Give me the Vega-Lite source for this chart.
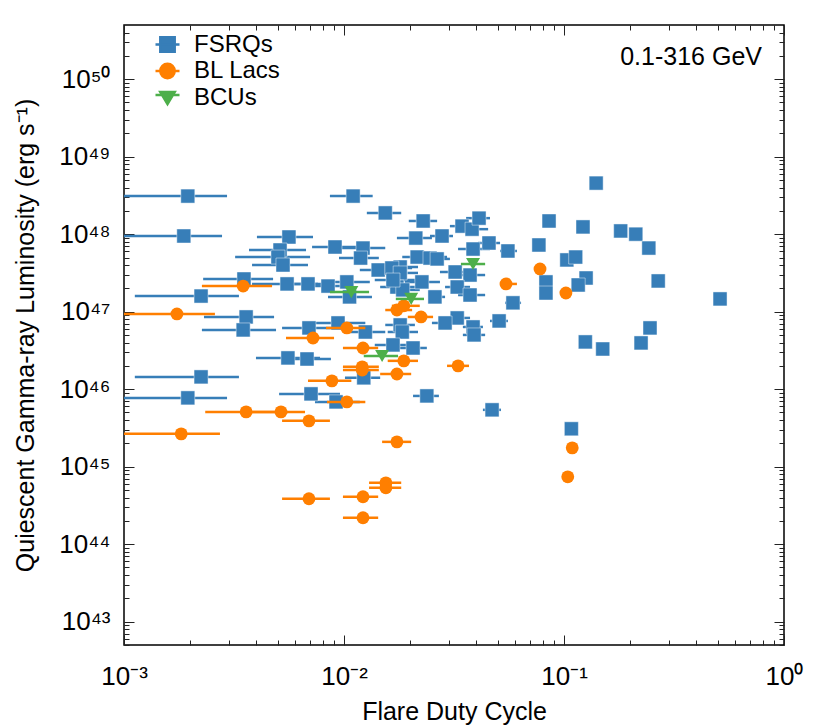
{
  "$schema": "https://vega.github.io/schema/vega-lite/v6.json",
  "width": 660,
  "height": 620,
  "autosize": {"type": "none"},
  "padding": {"left": 124, "top": 25, "right": 46, "bottom": 82},
  "background": "white",
  "config": {
    "font": "Liberation Sans",
    "view": {"stroke": "#000", "strokeWidth": 1.5},
    "axis": {
      "grid": false,
      "domain": false,
      "labelFont": "Liberation Sans",
      "labelFontSize": 26,
      "labelColor": "#000",
      "titleFont": "Liberation Sans",
      "titleFontSize": 25,
      "titleFontWeight": "normal",
      "titleColor": "#000",
      "tickColor": "#222",
      "tickWidth": 1
    }
  },
  "data": {"values": [
    {"type":"FSRQs","x":0.00195,"y":3.10e48,"lo":0.0009,"hi":0.00294},
    {"type":"FSRQs","x":0.00187,"y":9.47e47,"lo":0.0009,"hi":0.00279},
    {"type":"FSRQs","x":0.0110,"y":3.10e48,"lo":0.00863,"hi":0.0135},
    {"type":"FSRQs","x":0.0154,"y":1.88e48,"lo":0.0127,"hi":0.0182},
    {"type":"FSRQs","x":0.00562,"y":9.19e47,"lo":0.00402,"hi":0.00723},
    {"type":"FSRQs","x":0.00512,"y":6.25e47,"lo":0.00370,"hi":0.00672},
    {"type":"FSRQs","x":0.00501,"y":5.07e47,"lo":0.00320,"hi":0.00701},
    {"type":"FSRQs","x":0.00528,"y":4.00e47,"lo":0.00382,"hi":0.00686},
    {"type":"FSRQs","x":0.00351,"y":2.64e47,"lo":0.00229,"hi":0.00476},
    {"type":"FSRQs","x":0.00224,"y":1.59e47,"lo":0.00112,"hi":0.00333},
    {"type":"FSRQs","x":0.00359,"y":8.55e46,"lo":0.00231,"hi":0.00481},
    {"type":"FSRQs","x":0.00348,"y":5.81e46,"lo":0.00226,"hi":0.00491},
    {"type":"FSRQs","x":0.00551,"y":2.28e47,"lo":0.00382,"hi":0.00762},
    {"type":"FSRQs","x":0.00686,"y":2.28e47,"lo":0.00540,"hi":0.00863},
    {"type":"FSRQs","x":0.00846,"y":2.14e47,"lo":0.00665,"hi":0.0106},
    {"type":"FSRQs","x":0.0103,"y":2.42e47,"lo":0.00820,"hi":0.0131},
    {"type":"FSRQs","x":0.0106,"y":1.55e47,"lo":0.00846,"hi":0.0134},
    {"type":"FSRQs","x":0.00910,"y":6.83e47,"lo":0.00716,"hi":0.0118},
    {"type":"FSRQs","x":0.0122,"y":6.62e47,"lo":0.00959,"hi":0.0154},
    {"type":"FSRQs","x":0.0119,"y":4.92e47,"lo":0.00949,"hi":0.0144},
    {"type":"FSRQs","x":0.0212,"y":8.91e47,"lo":0.0174,"hi":0.0251},
    {"type":"FSRQs","x":0.0229,"y":1.48e48,"lo":0.0197,"hi":0.0265},
    {"type":"FSRQs","x":0.0279,"y":9.47e47,"lo":0.0246,"hi":0.0313},
    {"type":"FSRQs","x":0.0344,"y":1.27e48,"lo":0.0303,"hi":0.0394},
    {"type":"FSRQs","x":0.0382,"y":1.16e48,"lo":0.0330,"hi":0.0452},
    {"type":"FSRQs","x":0.0411,"y":1.61e48,"lo":0.0359,"hi":0.0461},
    {"type":"FSRQs","x":0.0456,"y":7.69e47,"lo":0.0406,"hi":0.0512},
    {"type":"FSRQs","x":0.0386,"y":6.43e47,"lo":0.0330,"hi":0.0461},
    {"type":"FSRQs","x":0.0556,"y":6.07e47,"lo":0.0512,"hi":0.0611},
    {"type":"FSRQs","x":0.0855,"y":1.48e48},
    {"type":"FSRQs","x":0.0769,"y":7.25e47},
    {"type":"FSRQs","x":0.140,"y":4.56e48},
    {"type":"FSRQs","x":0.122,"y":1.24e48},
    {"type":"FSRQs","x":0.181,"y":1.10e48},
    {"type":"FSRQs","x":0.212,"y":1.00e48},
    {"type":"FSRQs","x":0.243,"y":6.62e47},
    {"type":"FSRQs","x":0.103,"y":4.65e47},
    {"type":"FSRQs","x":0.113,"y":5.07e47},
    {"type":"FSRQs","x":0.126,"y":2.72e47},
    {"type":"FSRQs","x":0.116,"y":2.21e47},
    {"type":"FSRQs","x":0.268,"y":2.49e47},
    {"type":"FSRQs","x":0.512,"y":1.46e47},
    {"type":"FSRQs","x":0.246,"y":6.17e46},
    {"type":"FSRQs","x":0.224,"y":3.95e46},
    {"type":"FSRQs","x":0.125,"y":4.07e46},
    {"type":"FSRQs","x":0.150,"y":3.30e46},
    {"type":"FSRQs","x":0.108,"y":3.08e45},
    {"type":"FSRQs","x":0.0828,"y":2.42e47},
    {"type":"FSRQs","x":0.0828,"y":1.74e47},
    {"type":"FSRQs","x":0.0586,"y":1.30e47,"lo":0.0540,"hi":0.0638},
    {"type":"FSRQs","x":0.0507,"y":7.59e46,"lo":0.0461,"hi":0.0556},
    {"type":"FSRQs","x":0.0386,"y":6.35e46,"lo":0.0347,"hi":0.0428},
    {"type":"FSRQs","x":0.0390,"y":5.01e46,"lo":0.0347,"hi":0.0438},
    {"type":"FSRQs","x":0.0327,"y":8.30e46,"lo":0.0288,"hi":0.0374},
    {"type":"FSRQs","x":0.0288,"y":7.15e46,"lo":0.0251,"hi":0.0337},
    {"type":"FSRQs","x":0.0259,"y":1.55e47,"lo":0.0241,"hi":0.0288},
    {"type":"FSRQs","x":0.0215,"y":5.07e47,"lo":0.0184,"hi":0.0294},
    {"type":"FSRQs","x":0.0246,"y":4.92e47,"lo":0.0210,"hi":0.0294},
    {"type":"FSRQs","x":0.0265,"y":4.79e47,"lo":0.0234,"hi":0.0303},
    {"type":"FSRQs","x":0.0143,"y":3.45e47,"lo":0.0118,"hi":0.0180},
    {"type":"FSRQs","x":0.0180,"y":3.77e47,"lo":0.0154,"hi":0.0217},
    {"type":"FSRQs","x":0.0165,"y":3.66e47,"lo":0.0138,"hi":0.0204},
    {"type":"FSRQs","x":0.0180,"y":3.16e47,"lo":0.0158,"hi":0.0217},
    {"type":"FSRQs","x":0.0174,"y":2.08e47,"lo":0.0146,"hi":0.0210},
    {"type":"FSRQs","x":0.0185,"y":1.91e47,"lo":0.0162,"hi":0.0221},
    {"type":"FSRQs","x":0.0226,"y":2.42e47,"lo":0.0189,"hi":0.0273},
    {"type":"FSRQs","x":0.0320,"y":3.25e47,"lo":0.0273,"hi":0.0374},
    {"type":"FSRQs","x":0.0374,"y":2.97e47,"lo":0.0320,"hi":0.0438},
    {"type":"FSRQs","x":0.0327,"y":2.08e47,"lo":0.0288,"hi":0.0374},
    {"type":"FSRQs","x":0.0374,"y":1.64e47,"lo":0.0330,"hi":0.0438},
    {"type":"FSRQs","x":0.0167,"y":2.56e47,"lo":0.0138,"hi":0.0210},
    {"type":"FSRQs","x":0.00693,"y":6.17e46,"lo":0.00523,"hi":0.00891},
    {"type":"FSRQs","x":0.00939,"y":7.15e46,"lo":0.00738,"hi":0.0125},
    {"type":"FSRQs","x":0.0125,"y":5.47e46,"lo":0.0106,"hi":0.0154},
    {"type":"FSRQs","x":0.0180,"y":6.74e46,"lo":0.0154,"hi":0.0210},
    {"type":"FSRQs","x":0.0184,"y":5.47e46,"lo":0.0158,"hi":0.0217},
    {"type":"FSRQs","x":0.0167,"y":3.72e46,"lo":0.0138,"hi":0.0210},
    {"type":"FSRQs","x":0.0206,"y":3.40e46,"lo":0.0174,"hi":0.0238},
    {"type":"FSRQs","x":0.00556,"y":2.53e46,"lo":0.00398,"hi":0.00778},
    {"type":"FSRQs","x":0.00679,"y":2.45e46,"lo":0.00540,"hi":0.00872},
    {"type":"FSRQs","x":0.0123,"y":1.40e46,"lo":0.0101,"hi":0.0146},
    {"type":"FSRQs","x":0.00224,"y":1.44e46,"lo":0.00112,"hi":0.00333},
    {"type":"FSRQs","x":0.00195,"y":7.72e45,"lo":0.0009,"hi":0.00294},
    {"type":"FSRQs","x":0.00708,"y":8.69e45,"lo":0.00507,"hi":0.00959},
    {"type":"FSRQs","x":0.00920,"y":6.85e45,"lo":0.00738,"hi":0.0118},
    {"type":"FSRQs","x":0.0238,"y":8.18e45,"lo":0.0206,"hi":0.0270},
    {"type":"FSRQs","x":0.0471,"y":5.41e45,"lo":0.0428,"hi":0.0517},
    {"type":"BL Lacs","x":0.00348,"y":2.14e47,"lo":0.00226,"hi":0.00471},
    {"type":"BL Lacs","x":0.00174,"y":9.35e46,"lo":0.0009,"hi":0.00259},
    {"type":"BL Lacs","x":0.00723,"y":4.58e46,"lo":0.00545,"hi":0.00901},
    {"type":"BL Lacs","x":0.0103,"y":6.17e46,"lo":0.00828,"hi":0.0125},
    {"type":"BL Lacs","x":0.00881,"y":1.28e46,"lo":0.00686,"hi":0.0108},
    {"type":"BL Lacs","x":0.0103,"y":6.85e45,"lo":0.00837,"hi":0.0125},
    {"type":"BL Lacs","x":0.00359,"y":5.09e45,"lo":0.00234,"hi":0.00556},
    {"type":"BL Lacs","x":0.00517,"y":5.09e45,"lo":0.00374,"hi":0.00665},
    {"type":"BL Lacs","x":0.00693,"y":3.90e45,"lo":0.00523,"hi":0.00863},
    {"type":"BL Lacs","x":0.00182,"y":2.65e45,"lo":0.0009,"hi":0.00273},
    {"type":"BL Lacs","x":0.0122,"y":3.40e46,"lo":0.00989,"hi":0.0143},
    {"type":"BL Lacs","x":0.0121,"y":1.94e46,"lo":0.00989,"hi":0.0144},
    {"type":"BL Lacs","x":0.0121,"y":1.77e46,"lo":0.00989,"hi":0.0144},
    {"type":"BL Lacs","x":0.0187,"y":2.32e46,"lo":0.0158,"hi":0.0217},
    {"type":"BL Lacs","x":0.0174,"y":1.57e46,"lo":0.0146,"hi":0.0202},
    {"type":"BL Lacs","x":0.0330,"y":2.00e46,"lo":0.0294,"hi":0.0370},
    {"type":"BL Lacs","x":0.0174,"y":1.05e47,"lo":0.0154,"hi":0.0204},
    {"type":"BL Lacs","x":0.0187,"y":1.19e47,"lo":0.0165,"hi":0.0221},
    {"type":"BL Lacs","x":0.0224,"y":8.55e46,"lo":0.0195,"hi":0.0254},
    {"type":"BL Lacs","x":0.0545,"y":2.28e47,"lo":0.0512,"hi":0.0611},
    {"type":"BL Lacs","x":0.0778,"y":3.56e47},
    {"type":"BL Lacs","x":0.102,"y":1.74e47},
    {"type":"BL Lacs","x":0.0174,"y":2.09e45,"lo":0.0149,"hi":0.0202},
    {"type":"BL Lacs","x":0.0155,"y":6.19e44,"lo":0.0130,"hi":0.0182},
    {"type":"BL Lacs","x":0.0155,"y":5.34e44,"lo":0.0130,"hi":0.0182},
    {"type":"BL Lacs","x":0.0122,"y":4.09e44,"lo":0.00989,"hi":0.0143},
    {"type":"BL Lacs","x":0.00693,"y":3.85e44,"lo":0.00523,"hi":0.00863},
    {"type":"BL Lacs","x":0.0122,"y":2.19e44,"lo":0.00989,"hi":0.0143},
    {"type":"BL Lacs","x":0.109,"y":1.75e45},
    {"type":"BL Lacs","x":0.104,"y":7.40e44},
    {"type":"BCUs","x":0.0108,"y":1.79e47,"lo":0.00863,"hi":0.0130},
    {"type":"BCUs","x":0.0202,"y":1.46e47,"lo":0.0172,"hi":0.0231},
    {"type":"BCUs","x":0.0149,"y":2.68e46,"lo":0.0123,"hi":0.0176},
    {"type":"BCUs","x":0.0386,"y":4.12e47,"lo":0.0340,"hi":0.0438}
  ]},
  "resolve": {"axis": {"x": "independent", "y": "independent"}},
  "layer": [
    {
      "transform": [{"filter": "datum.type == 'FSRQs' && isValid(datum.lo)"}],
      "mark": {"type": "rule", "color": "#377eb8", "strokeWidth": 2.5, "clip": true},
      "encoding": {
        "x": {"field": "lo", "type": "quantitative",
          "scale": {"type": "log", "domain": [0.001, 1], "nice": false},
          "axis": {
            "orient": "bottom",
            "title": "Flare Duty Cycle",
            "titleX": 330, "titleY": 66, "titleBaseline": "middle", "titleAlign": "center",
            "values": [0.001,0.002,0.003,0.004,0.005,0.006,0.007,0.008,0.009,0.01,0.02,0.03,0.04,0.05,0.06,0.07,0.08,0.09,0.1,0.2,0.3,0.4,0.5,0.6,0.7,0.8,0.9,1],
            "labelExpr": "abs(log(datum.value)/LN10 - round(log(datum.value)/LN10)) < 0.001 ? '10' + ['⁻³','⁻²','⁻¹','⁰'][round(log(datum.value)/LN10) + 3] : ''",
            "tickSize": {"condition": {"test": "abs(log(datum.value)/LN10 - round(log(datum.value)/LN10)) < 0.001", "value": -10}, "value": -5},
            "labelPadding": 28,
            "labelFlush": false,
            "labelOverlap": false
          }
        },
        "x2": {"field": "hi"},
        "y": {"field": "y", "type": "quantitative",
          "scale": {"type": "log", "domain": [5e42, 5e50], "nice": false},
          "axis": {
            "orient": "left",
            "title": "Quiescent Gamma-ray Luminosity (erg s⁻¹)",
            "titleX": -99, "titleY": 310, "titleBaseline": "middle", "titleAlign": "center", "titleAngle": -90,
            "values": [5e42,6e42,7e42,8e42,9e42,1e43,2e43,3e43,4e43,5e43,6e43,7e43,8e43,9e43,1e44,2e44,3e44,4e44,5e44,6e44,7e44,8e44,9e44,1e45,2e45,3e45,4e45,5e45,6e45,7e45,8e45,9e45,1e46,2e46,3e46,4e46,5e46,6e46,7e46,8e46,9e46,1e47,2e47,3e47,4e47,5e47,6e47,7e47,8e47,9e47,1e48,2e48,3e48,4e48,5e48,6e48,7e48,8e48,9e48,1e49,2e49,3e49,4e49,5e49,6e49,7e49,8e49,9e49,1e50,2e50,3e50,4e50],
            "labelExpr": "abs(log(datum.value)/LN10 - round(log(datum.value)/LN10)) < 0.001 ? '10' + ['⁴³','⁴⁴','⁴⁵','⁴⁶','⁴⁷','⁴⁸','⁴⁹','⁵⁰'][round(log(datum.value)/LN10) - 43] : ''",
            "tickSize": {"condition": {"test": "abs(log(datum.value)/LN10 - round(log(datum.value)/LN10)) < 0.001", "value": -10}, "value": -5},
            "labelPadding": 24,
            "labelFlush": false,
            "labelOverlap": false,
            "labelBaseline": "middle"
          }
        }
      }
    },
    {
      "transform": [{"filter": "datum.type == 'FSRQs'"}],
      "mark": {"type": "point", "shape": "square", "filled": true, "color": "#377eb8", "size": 196, "opacity": 1, "stroke": "#ffffff", "strokeOpacity": 0.45, "strokeWidth": 1},
      "encoding": {
        "x": {"field": "x", "type": "quantitative",
          "axis": {
            "orient": "top", "title": null, "labels": false,
            "values": [0.001,0.002,0.003,0.004,0.005,0.006,0.007,0.008,0.009,0.01,0.02,0.03,0.04,0.05,0.06,0.07,0.08,0.09,0.1,0.2,0.3,0.4,0.5,0.6,0.7,0.8,0.9,1],
            "tickSize": {"condition": {"test": "abs(log(datum.value)/LN10 - round(log(datum.value)/LN10)) < 0.001", "value": -10}, "value": -5}
          }
        },
        "y": {"field": "y", "type": "quantitative",
          "axis": {
            "orient": "right", "title": null, "labels": false,
            "values": [5e42,6e42,7e42,8e42,9e42,1e43,2e43,3e43,4e43,5e43,6e43,7e43,8e43,9e43,1e44,2e44,3e44,4e44,5e44,6e44,7e44,8e44,9e44,1e45,2e45,3e45,4e45,5e45,6e45,7e45,8e45,9e45,1e46,2e46,3e46,4e46,5e46,6e46,7e46,8e46,9e46,1e47,2e47,3e47,4e47,5e47,6e47,7e47,8e47,9e47,1e48,2e48,3e48,4e48,5e48,6e48,7e48,8e48,9e48,1e49,2e49,3e49,4e49,5e49,6e49,7e49,8e49,9e49,1e50,2e50,3e50,4e50],
            "tickSize": {"condition": {"test": "abs(log(datum.value)/LN10 - round(log(datum.value)/LN10)) < 0.001", "value": -10}, "value": -5}
          }
        }
      }
    },
    {
      "transform": [{"filter": "datum.type == 'BL Lacs' && isValid(datum.lo)"}],
      "mark": {"type": "rule", "color": "#ff7f00", "strokeWidth": 2.5, "clip": true},
      "encoding": {
        "x": {"field": "lo", "type": "quantitative", "axis": null},
        "x2": {"field": "hi"},
        "y": {"field": "y", "type": "quantitative", "axis": null}
      }
    },
    {
      "transform": [{"filter": "datum.type == 'BL Lacs'"}],
      "mark": {"type": "point", "shape": "circle", "filled": true, "color": "#ff7f00", "size": 165, "opacity": 1},
      "encoding": {
        "x": {"field": "x", "type": "quantitative", "axis": null},
        "y": {"field": "y", "type": "quantitative", "axis": null}
      }
    },
    {
      "transform": [{"filter": "datum.type == 'BCUs' && isValid(datum.lo)"}],
      "mark": {"type": "rule", "color": "#4daf4a", "strokeWidth": 2.5, "clip": true},
      "encoding": {
        "x": {"field": "lo", "type": "quantitative", "axis": null},
        "x2": {"field": "hi"},
        "y": {"field": "y", "type": "quantitative", "axis": null}
      }
    },
    {
      "transform": [{"filter": "datum.type == 'BCUs'"}],
      "mark": {"type": "point", "shape": "triangle-down", "filled": true, "color": "#4daf4a", "size": 196, "opacity": 1},
      "encoding": {
        "x": {"field": "x", "type": "quantitative", "axis": null},
        "y": {"field": "y", "type": "quantitative", "axis": null}
      }
    },
    {
      "mark": {"type": "point", "filled": true, "opacity": 0},
      "encoding": {
        "x": {"field": "x", "type": "quantitative", "axis": null},
        "y": {"field": "y", "type": "quantitative", "axis": null},
        "color": {"field": "type", "type": "nominal",
          "scale": {"domain": ["FSRQs", "BL Lacs", "BCUs"], "range": ["#377eb8", "#ff7f00", "#4daf4a"]},
          "legend": {
            "orient": "none", "legendX": 30, "legendY": 6, "title": null, "padding": 0,
            "rowPadding": 0.5, "symbolSize": 576, "labelFontSize": 24, "labelFont": "Liberation Sans",
            "labelColor": "#000", "labelOffset": 13, "symbolStrokeWidth": 2.5, "symbolOpacity": 1,
            "encode": {"symbols": {"update": {"stroke": {"scale": "color", "field": "value"}, "opacity": {"value": 1}, "strokeWidth": {"value": 2.5}}}}
          }
        },
        "shape": {"field": "type", "type": "nominal",
          "scale": {"domain": ["FSRQs", "BL Lacs", "BCUs"], "range": [
            "M-1,0L1,0M-0.6,-0.6L0.6,-0.6L0.6,0.6L-0.6,0.6Z",
            "M-1,0L1,0M-0.6,0A0.6,0.6 0 1,0 0.6,0A0.6,0.6 0 1,0 -0.6,0Z",
            "M-1,-0.2L1,-0.2M-0.6,-0.45L0.6,-0.45L0,0.55Z"
          ]},
          "legend": {
            "orient": "none", "legendX": 30, "legendY": 6, "title": null, "padding": 0,
            "rowPadding": 0.5, "symbolSize": 576, "labelFontSize": 24, "labelFont": "Liberation Sans",
            "labelColor": "#000", "labelOffset": 13, "symbolStrokeWidth": 2.5, "symbolOpacity": 1,
            "encode": {"symbols": {"update": {"stroke": {"scale": "color", "field": "value"}, "opacity": {"value": 1}, "strokeWidth": {"value": 2.5}}}}
          }
        }
      }
    },
    {
      "data": {"values": [{"label": "0.1-316 GeV"}]},
      "mark": {"type": "text", "align": "right", "baseline": "middle", "fontSize": 25, "font": "Liberation Sans", "color": "#000"},
      "encoding": {
        "x": {"datum": 0.794, "type": "quantitative", "axis": null},
        "y": {"datum": 1.92e50, "type": "quantitative", "axis": null},
        "text": {"field": "label", "type": "nominal"}
      }
    }
  ]
}
